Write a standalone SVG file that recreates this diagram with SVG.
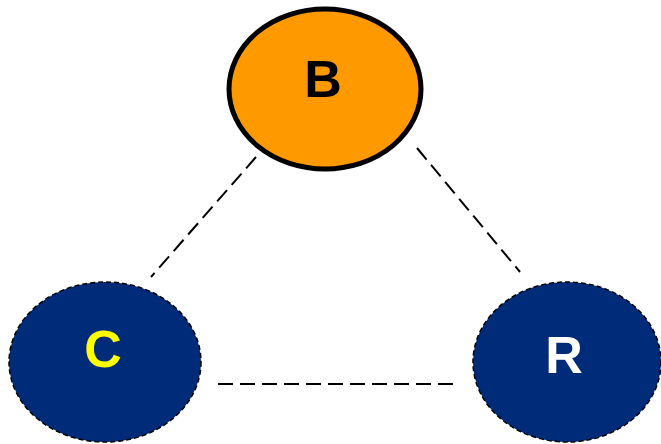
<svg xmlns="http://www.w3.org/2000/svg" width="661" height="444" viewBox="0 0 661 444">
<style>
.lbl{font-family:"Liberation Sans",Arial,sans-serif;font-weight:bold;font-size:52px;text-anchor:middle}
.conn{stroke:#000;stroke-width:2;stroke-dasharray:15 7;fill:none}
.navy{fill:#002B78;stroke:#000;stroke-width:1.5;stroke-dasharray:5 3}
</style>
<rect width="661" height="444" fill="#fff"/>
<g id="connectors">
<line class="conn" x1="256" y1="157" x2="151" y2="277"/>
<line class="conn" x1="417" y1="148" x2="520" y2="272"/>
<line class="conn" x1="218" y1="384" x2="457" y2="384"/>
</g>
<g id="node-B">
<ellipse cx="325" cy="89" rx="96" ry="80" fill="#FF9900" stroke="#000" stroke-width="5"/>
<text class="lbl" x="323" y="97" fill="#000">B</text>
</g>
<g id="node-C">
<ellipse class="navy" cx="105" cy="362" rx="96" ry="80"/>
<text class="lbl" x="103" y="367" fill="#FFFF00">C</text>
</g>
<g id="node-R">
<ellipse class="navy" cx="567" cy="362" rx="94" ry="80"/>
<text class="lbl" x="564" y="373" fill="#fff">R</text>
</g>
</svg>
